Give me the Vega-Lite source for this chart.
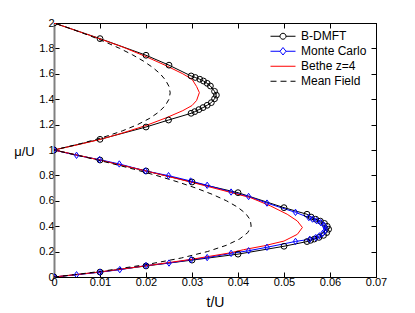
{
  "$schema": "https://vega.github.io/schema/vega-lite/v6.json",
  "width": 322,
  "height": 254,
  "autosize": {"type": "none"},
  "padding": {"left": 54, "top": 23, "right": 39, "bottom": 36},
  "background": "white",
  "view": {"stroke": "black", "strokeWidth": 1, "fill": null},
  "config": {
    "view": {"stroke": "black", "strokeWidth": 1},
    "font": "Liberation Sans",
    "axis": {"labelFont": "Liberation Sans", "titleFont": "Liberation Sans", "labelFontSize": 11, "labelColor": "black", "titleColor": "black", "titleFontWeight": "normal", "tickColor": "black", "tickWidth": 1, "grid": false, "zindex": 2},
    "legend": {"labelFont": "Liberation Sans", "labelFontSize": 12, "labelColor": "black"}
  },
  "data": {"values": [
    {"s":"B-DMFT","i":1,"t":0,"mu":0},
    {"s":"B-DMFT","i":2,"t":0.01,"mu":0.039},
    {"s":"B-DMFT","i":3,"t":0.02,"mu":0.087},
    {"s":"B-DMFT","i":4,"t":0.03,"mu":0.133},
    {"s":"B-DMFT","i":5,"t":0.04,"mu":0.18},
    {"s":"B-DMFT","i":6,"t":0.05,"mu":0.242},
    {"s":"B-DMFT","i":7,"t":0.055,"mu":0.279},
    {"s":"B-DMFT","i":8,"t":0.0558,"mu":0.289},
    {"s":"B-DMFT","i":9,"t":0.0566,"mu":0.299},
    {"s":"B-DMFT","i":10,"t":0.0576,"mu":0.312},
    {"s":"B-DMFT","i":11,"t":0.0586,"mu":0.328},
    {"s":"B-DMFT","i":12,"t":0.0593,"mu":0.35},
    {"s":"B-DMFT","i":13,"t":0.0597,"mu":0.376},
    {"s":"B-DMFT","i":14,"t":0.0594,"mu":0.399},
    {"s":"B-DMFT","i":15,"t":0.0588,"mu":0.422},
    {"s":"B-DMFT","i":16,"t":0.0579,"mu":0.44},
    {"s":"B-DMFT","i":17,"t":0.0569,"mu":0.455},
    {"s":"B-DMFT","i":18,"t":0.0559,"mu":0.472},
    {"s":"B-DMFT","i":19,"t":0.055,"mu":0.494},
    {"s":"B-DMFT","i":20,"t":0.05,"mu":0.546},
    {"s":"B-DMFT","i":21,"t":0.04,"mu":0.664},
    {"s":"B-DMFT","i":22,"t":0.03,"mu":0.748},
    {"s":"B-DMFT","i":23,"t":0.02,"mu":0.835},
    {"s":"B-DMFT","i":24,"t":0.01,"mu":0.921},
    {"s":"B-DMFT","i":25,"t":0,"mu":1},
    {"s":"B-DMFT","i":26,"t":0.01,"mu":1.084},
    {"s":"B-DMFT","i":27,"t":0.02,"mu":1.181},
    {"s":"B-DMFT","i":28,"t":0.0249,"mu":1.236},
    {"s":"B-DMFT","i":29,"t":0.0298,"mu":1.289},
    {"s":"B-DMFT","i":30,"t":0.0306,"mu":1.302},
    {"s":"B-DMFT","i":31,"t":0.0315,"mu":1.318},
    {"s":"B-DMFT","i":32,"t":0.0324,"mu":1.334},
    {"s":"B-DMFT","i":33,"t":0.0333,"mu":1.352},
    {"s":"B-DMFT","i":34,"t":0.0342,"mu":1.373},
    {"s":"B-DMFT","i":35,"t":0.0349,"mu":1.403},
    {"s":"B-DMFT","i":36,"t":0.0353,"mu":1.432},
    {"s":"B-DMFT","i":37,"t":0.0349,"mu":1.462},
    {"s":"B-DMFT","i":38,"t":0.034,"mu":1.504},
    {"s":"B-DMFT","i":39,"t":0.0333,"mu":1.525},
    {"s":"B-DMFT","i":40,"t":0.0325,"mu":1.543},
    {"s":"B-DMFT","i":41,"t":0.0317,"mu":1.557},
    {"s":"B-DMFT","i":42,"t":0.0307,"mu":1.571},
    {"s":"B-DMFT","i":43,"t":0.0298,"mu":1.583},
    {"s":"B-DMFT","i":44,"t":0.025,"mu":1.668},
    {"s":"B-DMFT","i":45,"t":0.02,"mu":1.746},
    {"s":"B-DMFT","i":46,"t":0.01,"mu":1.877},
    {"s":"B-DMFT","i":47,"t":0,"mu":2},

    {"s":"Monte Carlo","i":1,"t":0,"mu":0},
    {"s":"Monte Carlo","i":2,"t":0.0049,"mu":0.018},
    {"s":"Monte Carlo","i":3,"t":0.01,"mu":0.038},
    {"s":"Monte Carlo","i":4,"t":0.0143,"mu":0.058},
    {"s":"Monte Carlo","i":5,"t":0.02,"mu":0.09},
    {"s":"Monte Carlo","i":6,"t":0.025,"mu":0.11},
    {"s":"Monte Carlo","i":7,"t":0.0298,"mu":0.137},
    {"s":"Monte Carlo","i":8,"t":0.0333,"mu":0.153},
    {"s":"Monte Carlo","i":9,"t":0.0385,"mu":0.186},
    {"s":"Monte Carlo","i":10,"t":0.0423,"mu":0.207},
    {"s":"Monte Carlo","i":11,"t":0.0463,"mu":0.234},
    {"s":"Monte Carlo","i":12,"t":0.0525,"mu":0.28},
    {"s":"Monte Carlo","i":13,"t":0.0556,"mu":0.297},
    {"s":"Monte Carlo","i":14,"t":0.0569,"mu":0.31},
    {"s":"Monte Carlo","i":15,"t":0.0577,"mu":0.324},
    {"s":"Monte Carlo","i":16,"t":0.0584,"mu":0.343},
    {"s":"Monte Carlo","i":17,"t":0.0589,"mu":0.363},
    {"s":"Monte Carlo","i":18,"t":0.059,"mu":0.387},
    {"s":"Monte Carlo","i":19,"t":0.0587,"mu":0.407},
    {"s":"Monte Carlo","i":20,"t":0.058,"mu":0.428},
    {"s":"Monte Carlo","i":21,"t":0.0571,"mu":0.443},
    {"s":"Monte Carlo","i":22,"t":0.0562,"mu":0.456},
    {"s":"Monte Carlo","i":23,"t":0.0554,"mu":0.468},
    {"s":"Monte Carlo","i":24,"t":0.0525,"mu":0.509},
    {"s":"Monte Carlo","i":25,"t":0.0463,"mu":0.582},
    {"s":"Monte Carlo","i":26,"t":0.0423,"mu":0.634},
    {"s":"Monte Carlo","i":27,"t":0.0385,"mu":0.669},
    {"s":"Monte Carlo","i":28,"t":0.0333,"mu":0.722},
    {"s":"Monte Carlo","i":29,"t":0.0297,"mu":0.756},
    {"s":"Monte Carlo","i":30,"t":0.0249,"mu":0.798},
    {"s":"Monte Carlo","i":31,"t":0.0199,"mu":0.835},
    {"s":"Monte Carlo","i":32,"t":0.0142,"mu":0.89},
    {"s":"Monte Carlo","i":33,"t":0.0099,"mu":0.924},
    {"s":"Monte Carlo","i":34,"t":0.0049,"mu":0.958},
    {"s":"Monte Carlo","i":35,"t":0,"mu":1},

    {"s":"Bethe z=4","i":1,"t":0,"mu":0},
    {"s":"Bethe z=4","i":2,"t":0.01,"mu":0.04},
    {"s":"Bethe z=4","i":3,"t":0.02,"mu":0.088},
    {"s":"Bethe z=4","i":4,"t":0.03,"mu":0.14},
    {"s":"Bethe z=4","i":5,"t":0.0383,"mu":0.19},
    {"s":"Bethe z=4","i":6,"t":0.0412,"mu":0.215},
    {"s":"Bethe z=4","i":7,"t":0.0456,"mu":0.245},
    {"s":"Bethe z=4","i":8,"t":0.05,"mu":0.283},
    {"s":"Bethe z=4","i":9,"t":0.0529,"mu":0.336},
    {"s":"Bethe z=4","i":10,"t":0.054,"mu":0.39},
    {"s":"Bethe z=4","i":11,"t":0.0529,"mu":0.441},
    {"s":"Bethe z=4","i":12,"t":0.0507,"mu":0.494},
    {"s":"Bethe z=4","i":13,"t":0.0471,"mu":0.559},
    {"s":"Bethe z=4","i":14,"t":0.0427,"mu":0.625},
    {"s":"Bethe z=4","i":15,"t":0.0383,"mu":0.667},
    {"s":"Bethe z=4","i":16,"t":0.03,"mu":0.745},
    {"s":"Bethe z=4","i":17,"t":0.02,"mu":0.835},
    {"s":"Bethe z=4","i":18,"t":0.01,"mu":0.92},
    {"s":"Bethe z=4","i":19,"t":0,"mu":1},
    {"s":"Bethe z=4","i":20,"t":0.005,"mu":1.04},
    {"s":"Bethe z=4","i":21,"t":0.01,"mu":1.083},
    {"s":"Bethe z=4","i":22,"t":0.015,"mu":1.135},
    {"s":"Bethe z=4","i":23,"t":0.02,"mu":1.193},
    {"s":"Bethe z=4","i":24,"t":0.0245,"mu":1.255},
    {"s":"Bethe z=4","i":25,"t":0.028,"mu":1.31},
    {"s":"Bethe z=4","i":26,"t":0.03,"mu":1.35},
    {"s":"Bethe z=4","i":27,"t":0.031,"mu":1.39},
    {"s":"Bethe z=4","i":28,"t":0.0316,"mu":1.452},
    {"s":"Bethe z=4","i":29,"t":0.031,"mu":1.5},
    {"s":"Bethe z=4","i":30,"t":0.03,"mu":1.557},
    {"s":"Bethe z=4","i":31,"t":0.028,"mu":1.6},
    {"s":"Bethe z=4","i":32,"t":0.0245,"mu":1.662},
    {"s":"Bethe z=4","i":33,"t":0.02,"mu":1.735},
    {"s":"Bethe z=4","i":34,"t":0.015,"mu":1.81},
    {"s":"Bethe z=4","i":35,"t":0.01,"mu":1.875},
    {"s":"Bethe z=4","i":36,"t":0.005,"mu":1.938},
    {"s":"Bethe z=4","i":37,"t":0,"mu":2},

    {"s":"Mean Field","i":1,"t":0,"mu":0},
    {"s":"Mean Field","i":2,"t":0.00595,"mu":0.025},
    {"s":"Mean Field","i":3,"t":0.01131,"mu":0.05},
    {"s":"Mean Field","i":4,"t":0.02045,"mu":0.1},
    {"s":"Mean Field","i":5,"t":0.02772,"mu":0.15},
    {"s":"Mean Field","i":6,"t":0.03333,"mu":0.2},
    {"s":"Mean Field","i":7,"t":0.0375,"mu":0.25},
    {"s":"Mean Field","i":8,"t":0.04038,"mu":0.3},
    {"s":"Mean Field","i":9,"t":0.04213,"mu":0.35},
    {"s":"Mean Field","i":10,"t":0.04286,"mu":0.4},
    {"s":"Mean Field","i":11,"t":0.04267,"mu":0.45},
    {"s":"Mean Field","i":12,"t":0.04167,"mu":0.5},
    {"s":"Mean Field","i":13,"t":0.03992,"mu":0.55},
    {"s":"Mean Field","i":14,"t":0.0375,"mu":0.6},
    {"s":"Mean Field","i":15,"t":0.03447,"mu":0.65},
    {"s":"Mean Field","i":16,"t":0.03088,"mu":0.7},
    {"s":"Mean Field","i":17,"t":0.02679,"mu":0.75},
    {"s":"Mean Field","i":18,"t":0.02222,"mu":0.8},
    {"s":"Mean Field","i":19,"t":0.01723,"mu":0.85},
    {"s":"Mean Field","i":20,"t":0.01184,"mu":0.9},
    {"s":"Mean Field","i":21,"t":0.00609,"mu":0.95},
    {"s":"Mean Field","i":22,"t":0,"mu":1},
    {"s":"Mean Field","i":23,"t":0.00579,"mu":1.05},
    {"s":"Mean Field","i":24,"t":0.01071,"mu":1.1},
    {"s":"Mean Field","i":25,"t":0.01483,"mu":1.15},
    {"s":"Mean Field","i":26,"t":0.01818,"mu":1.2},
    {"s":"Mean Field","i":27,"t":0.02083,"mu":1.25},
    {"s":"Mean Field","i":28,"t":0.02283,"mu":1.3},
    {"s":"Mean Field","i":29,"t":0.0242,"mu":1.35},
    {"s":"Mean Field","i":30,"t":0.025,"mu":1.4},
    {"s":"Mean Field","i":31,"t":0.02526,"mu":1.45},
    {"s":"Mean Field","i":32,"t":0.025,"mu":1.5},
    {"s":"Mean Field","i":33,"t":0.02426,"mu":1.55},
    {"s":"Mean Field","i":34,"t":0.02308,"mu":1.6},
    {"s":"Mean Field","i":35,"t":0.02146,"mu":1.65},
    {"s":"Mean Field","i":36,"t":0.01944,"mu":1.7},
    {"s":"Mean Field","i":37,"t":0.01705,"mu":1.75},
    {"s":"Mean Field","i":38,"t":0.01429,"mu":1.8},
    {"s":"Mean Field","i":39,"t":0.01118,"mu":1.85},
    {"s":"Mean Field","i":40,"t":0.00776,"mu":1.9},
    {"s":"Mean Field","i":41,"t":0.00403,"mu":1.95},
    {"s":"Mean Field","i":42,"t":0,"mu":2}
  ]},
  "resolve": {"axis": {"x": "independent", "y": "independent"}},
  "layer": [
    {
      "transform": [{"filter": "datum.s != 'Mean Field'"}],
      "mark": {"type": "line", "strokeWidth": 1, "clip": true},
      "encoding": {
        "x": {"field": "t", "type": "quantitative", "scale": {"domain": [0, 0.07], "nice": false, "zero": false},
          "axis": {"orient": "bottom", "title": "t/U", "values": [0,0.01,0.02,0.03,0.04,0.05,0.06,0.07], "format": "~g", "tickSize": -5, "labelPadding": 4, "domainColor": "black", "titleFontSize": 14, "titleBaseline": "alphabetic", "titleY": 29, "labelFlush": false}},
        "y": {"field": "mu", "type": "quantitative", "scale": {"domain": [0, 2], "nice": false, "zero": false},
          "axis": {"orient": "left", "title": "μ/U", "values": [0,0.2,0.4,0.6,0.8,1,1.2,1.4,1.6,1.8,2], "format": "~g", "tickSize": -5, "labelPadding": 5, "domainColor": "#808080", "domainWidth": 2, "titleFontSize": 13, "titleAngle": 0, "titleAlign": "center", "titleBaseline": "middle", "titleX": -30, "titleY": 128, "labelFlush": false}},
        "order": {"field": "i", "type": "quantitative"},
        "color": {"field": "s", "type": "nominal",
          "scale": {"domain": ["B-DMFT", "Monte Carlo", "Bethe z=4", "Mean Field"], "range": ["#000000", "#0000ff", "#ff0000", "#000000"]}}
      }
    },
    {
      "transform": [{"filter": "datum.s == 'Mean Field'"}],
      "mark": {"type": "line", "strokeWidth": 1, "strokeDash": [5, 4], "color": "black", "clip": true},
      "encoding": {
        "x": {"field": "t", "type": "quantitative", "scale": {"domain": [0, 0.07], "nice": false, "zero": false},
          "axis": {"orient": "top", "title": null, "labels": false, "domain": true, "domainColor": "black", "domainWidth": 1, "values": [0,0.01,0.02,0.03,0.04,0.05,0.06,0.07], "tickSize": -5, "ticks": true}},
        "y": {"field": "mu", "type": "quantitative", "scale": {"domain": [0, 2], "nice": false, "zero": false},
          "axis": {"orient": "right", "title": null, "labels": false, "domain": true, "domainColor": "black", "values": [0,0.2,0.4,0.6,0.8,1,1.2,1.4,1.6,1.8,2], "tickSize": -5}},
        "order": {"field": "i", "type": "quantitative"}
      }
    },
    {
      "transform": [{"filter": "datum.s == 'B-DMFT'"}],
      "mark": {"type": "point", "shape": "circle", "filled": false, "color": "black", "strokeWidth": 1, "size": 34, "opacity": 1, "clip": true},
      "encoding": {
        "x": {"field": "t", "type": "quantitative", "axis": null},
        "y": {"field": "mu", "type": "quantitative", "axis": null}
      }
    },
    {
      "transform": [{"filter": "datum.s == 'Monte Carlo'"}],
      "mark": {"type": "point", "shape": "M0,-1L0.7,0L0,1L-0.7,0Z", "filled": false, "color": "#0000ff", "strokeWidth": 1, "size": 40, "opacity": 1, "clip": true},
      "encoding": {
        "x": {"field": "t", "type": "quantitative", "axis": null},
        "y": {"field": "mu", "type": "quantitative", "axis": null}
      }
    },
    {
      "transform": [{"filter": "datum.s == 'legend only'"}],
      "mark": {"type": "point", "filled": false, "strokeWidth": 1, "opacity": 1},
      "encoding": {
        "x": {"field": "t", "type": "quantitative", "axis": null},
        "y": {"field": "mu", "type": "quantitative", "axis": null},
        "color": {"field": "s", "type": "nominal",
          "scale": {"domain": ["B-DMFT", "Monte Carlo", "Bethe z=4", "Mean Field"], "range": ["#000000", "#0000ff", "#ff0000", "#000000"]},
          "legend": {"title": null, "orient": "none", "legendX": 216, "legendY": 6, "padding": 0, "symbolSize": 625, "symbolStrokeWidth": 1, "labelOffset": 5, "rowPadding": 0, "clipHeight": 14.5}},
        "shape": {"field": "s", "type": "nominal",
          "scale": {"domain": ["B-DMFT", "Monte Carlo", "Bethe z=4", "Mean Field"], "range": [
            "M-1,0L-0.24,0M0.24,0L1,0M-0.24,0A0.24,0.24,0,1,1,0.24,0A0.24,0.24,0,1,1,-0.24,0Z",
            "M-1,0L-0.24,0M0.24,0L1,0M-0.24,0L0,-0.3L0.24,0L0,0.3Z",
            "M-1,0L1,0",
            "M-1,0L-0.52,0M-0.2,0L0.28,0M0.6,0L1,0"]},
          "legend": {"title": null, "orient": "none", "legendX": 216, "legendY": 6, "padding": 0, "symbolSize": 625, "symbolStrokeWidth": 1, "labelOffset": 5, "rowPadding": 0, "clipHeight": 14.5}}
      }
    }
  ]
}
